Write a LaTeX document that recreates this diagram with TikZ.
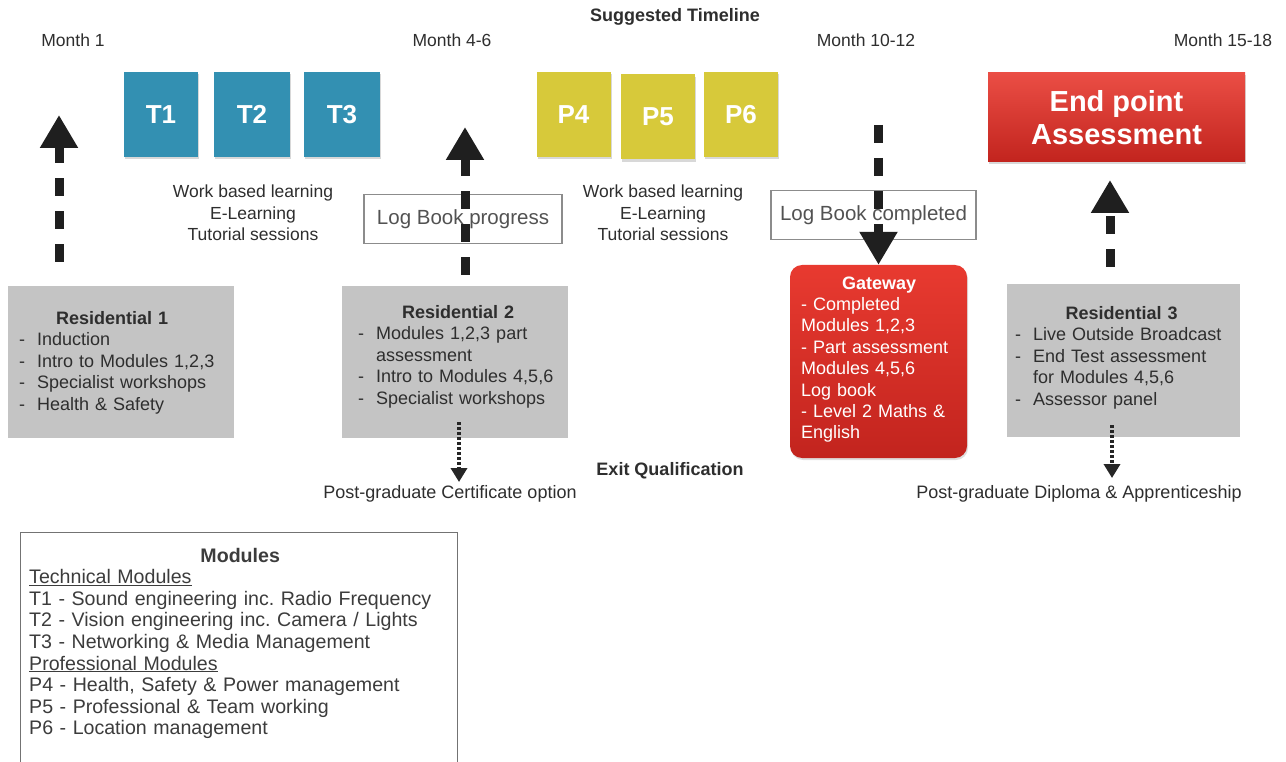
\documentclass[tikz,border=0pt]{standalone}
\usepackage{fontspec}
\setmainfont{Liberation Sans}
\usetikzlibrary{arrows.meta,shadows}
\definecolor{tblue}{HTML}{3390B2}
\definecolor{pyel}{HTML}{D7C93A}
\definecolor{rtop}{HTML}{E83A30}
\definecolor{rbot}{HTML}{C2241E}
\definecolor{gbox}{HTML}{C4C4C4}
\definecolor{txt}{HTML}{2E2E2E}
\definecolor{modtxt}{HTML}{3C3C3C}
\newcommand{\itm}[1]{\par\hangindent=18pt\hangafter=1\noindent\makebox[18pt][l]{-}#1}
\frenchspacing
\begin{document}
\begin{tikzpicture}[x=1pt,y=-1pt,
  modbox/.style={fill=#1, minimum width=74pt, minimum height=85pt, inner sep=0pt,
    text=white, font=\fontsize{26}{26}\selectfont\bfseries,
    drop shadow={shadow xshift=1pt, shadow yshift=-2.5pt, opacity=0.3}},
  greybox/.style={fill=gbox, inner sep=0pt},
  boxtext/.style={anchor=north west, inner sep=0pt, text width=#1,
    font=\fontsize{18}{21.4}\selectfont, text=txt},
  label/.style={inner sep=0pt, font=\fontsize{17.5}{21.5}\selectfont, text=txt},
  blabel/.style={inner sep=0pt, font=\fontsize{18}{21.5}\selectfont\bfseries, text=txt},
  logbox/.style={draw=black!45, line width=1.1pt, fill=white, minimum width=#1,
    minimum height=49pt, inner sep=0pt, font=\fontsize{20.5}{24}\selectfont, text=black!68},
  bigarrow/.style={line width=9pt, black!88, dash pattern=on 18pt off 15pt,
    -{Triangle[length=33pt,width=36pt]}},
  dotarrow/.style={line width=3.5pt, black!85, dash pattern=on 3pt off 2pt,
    -{Triangle[length=14pt,width=16pt]}}
]
\useasboundingbox[fill=white] (0,0) rectangle (1286,762);

% titles
\node[blabel] (title) at (675,17) {Suggested Timeline};
\node[label] (m1) at (73,40) {Month 1};
\node[label] (m2) at (452,40) {Month 4-6};
\node[label] (m3) at (866,40) {Month 10-12};
\node[label] (m4) at (1223,40) {Month 15-18};

% module boxes
\node[modbox=tblue] (t1) at (161,114.5) {T1};
\node[modbox=tblue, minimum width=76pt] (t2) at (252,114.5) {T2};
\node[modbox=tblue, minimum width=76pt] (t3) at (342,114.5) {T3};
\node[modbox=pyel] (p4) at (573.5,114.5) {P4};
\node[modbox=pyel] (p5) at (658,117) {P5};
\node[modbox=pyel] (p6) at (741,114.5) {P6};

\node[fill=rtop, top color=rtop!90!white, bottom color=rbot, minimum width=257pt, minimum height=89pt,
  inner sep=0pt, text=white, align=center, font=\fontsize{29}{33}\selectfont\bfseries,
  drop shadow={shadow xshift=1pt, shadow yshift=-2.5pt, opacity=0.3}] (epa) at (1116.5,117.5)
  {End point\\Assessment};

% work based learning
\node[label, align=center] (wbl1) at (253,213) {Work based learning\\E-Learning\\Tutorial sessions};
\node[label, align=center] (wbl2) at (663,213) {Work based learning\\E-Learning\\Tutorial sessions};

% log book boxes
\node[logbox=198pt] (lb1) at (463,219) {Log Book progress};
\node[logbox=205pt] (lb2) at (873.5,215) {Log Book completed};

% grey boxes
\node[greybox, minimum width=226pt, minimum height=152pt] (r1) at (121,362) {};
\node[boxtext=200pt] (r1t) at (19,311.3) {{\centering\hspace*{-14pt}\bfseries Residential 1\par}%
  \itm{Induction}\itm{Intro to Modules 1,2,3}\itm{Specialist workshops}\itm{Health \& Safety}};

\node[greybox, minimum width=226pt, minimum height=152pt] (r2) at (455,362) {};
\node[boxtext=200pt] (r2t) at (358,305.3) {{\centering\bfseries Residential 2\par}%
  \itm{Modules 1,2,3 part\newline assessment}\itm{Intro to Modules 4,5,6}\itm{Specialist workshops}};

\node[greybox, minimum width=233pt, minimum height=153pt] (r3) at (1123.5,360.5) {};
\node[boxtext=213pt] (r3t) at (1015,306.3) {{\centering\bfseries Residential 3\par}%
  \itm{Live Outside Broadcast}\itm{End Test assessment\newline for Modules 4,5,6}\itm{Assessor panel}};

\node[top color=rtop, bottom color=rbot, rounded corners=12pt, minimum width=177pt,
  minimum height=193pt, inner sep=0pt,
  drop shadow={shadow xshift=1pt, shadow yshift=-2pt, opacity=0.25}] (gw) at (878.5,361.5) {};
\node[boxtext=156pt, text=white] (gwt) at (801,276.3) {{\centering\bfseries Gateway\par}\raggedright
  - Completed\\Modules 1,2,3\\- Part assessment\\Modules 4,5,6\\Log book\\- Level 2 Maths \&\\English};

% exit qualification
\node[blabel] (exq) at (670,471) {Exit Qualification};
\node[label, font=\fontsize{18}{21.5}\selectfont] (pgc) at (450,494) {Post-graduate Certificate option};
\node[label, font=\fontsize{18}{21.5}\selectfont] (pgd) at (1079,494) {Post-graduate Diploma \& Apprenticeship};

% arrows
\coordinate (a1s) at (59,262); \coordinate (a1e) at (59,115);
\draw[bigarrow] (a1s) -- (a1e);
\coordinate (a2s) at (465,275); \coordinate (a2e) at (465,127);
\draw[bigarrow] (a2s) -- (a2e);
\coordinate (a3s) at (878.5,125);
\draw[bigarrow] (a3s) -- (gw.north);
\coordinate (a4s) at (1110,267); \coordinate (a4e) at (1110,180);
\draw[bigarrow] (a4s) -- (a4e);

\coordinate (d1s) at (459,422); \coordinate (d1e) at (459,482);
\draw[dotarrow] (d1s) -- (d1e);
\coordinate (d2s) at (1112,425); \coordinate (d2e) at (1112,478);
\draw[dotarrow] (d2s) -- (d2e);

% modules legend
\node[draw=black!55, line width=1.2pt, minimum width=437pt, minimum height=260pt,
  anchor=north west, inner sep=0pt] (legend) at (20,532) {};
\node[anchor=north west, inner sep=0pt, text width=425pt, font=\fontsize{19.6}{21.6}\selectfont,
  text=modtxt] (legendt) at (29,547.6) {{\centering\hspace*{-3pt}\bfseries Modules\par}\raggedright
  \underline{Technical Modules}\\
  T1 - Sound engineering inc. Radio Frequency\\
  T2 - Vision engineering inc. Camera / Lights\\
  T3 - Networking \& Media Management\\
  \underline{Professional Modules}\\
  P4 - Health, Safety \& Power management\\
  P5 - Professional \& Team working\\
  P6 - Location management};
\end{tikzpicture}
\end{document}
